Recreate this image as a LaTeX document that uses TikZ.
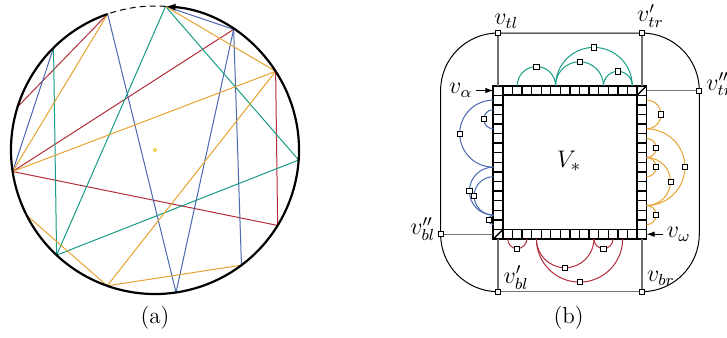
\documentclass[tikz,border=0pt]{standalone}
\usetikzlibrary{arrows.meta}
\definecolor{chblue}{HTML}{4A68B0}
\definecolor{chteal}{HTML}{179C86}
\definecolor{chorange}{HTML}{E6A332}
\definecolor{chred}{HTML}{B22C3A}
\definecolor{chyellow}{HTML}{E8C020}
\begin{document}
\begin{tikzpicture}[x=0.5pt, y=0.5pt, font=\fontsize{11.5}{13}\selectfont, >={Latex[length=4pt,width=2.8pt]},
    chord/.style={line width=0.5pt},
    arcln/.style={line width=0.5pt},
    vsq/.style={draw, fill=white, inner sep=0pt, minimum size=2.6pt, line width=0.4pt},
    lbl/.style={inner sep=0pt, anchor=base west},
    conn/.style={draw=black!55, line width=0.7pt},
    rim/.style={line width=0.5pt},
    cellln/.style={line width=0.7pt}]
  \useasboundingbox (0,0) rectangle (727,337);

  % (a) chords on the circle
  \foreach \n/\a in {pN/85.8, pA/109.2, pB/134.8, pC/162.5, pD/188.6, pE/206.9, pF/226.9,
                     pG/250.6, pH/278.4, pI/306.9, pJ/328.4, pK/356, pL/33.1, pM/56.9}
    \coordinate (\n) at ([shift={(155,187)}]\a:144);
  \foreach \u/\v in {pC/pA, pD/pM, pD/pJ, pL/pJ} \draw[chord, chred] (\u) -- (\v);
  \foreach \u/\v in {pB/pD, pA/pH, pH/pM, pM/pI, pN/pM} \draw[chord, chblue] (\u) -- (\v);
  \foreach \u/\v in {pB/pF, pF/pN, pN/pK, pF/pK} \draw[chord, chteal] (\u) -- (\v);
  \foreach \u/\v in {pA/pD, pD/pL, pN/pL, pL/pG, pE/pG, pG/pI} \draw[chord, chorange] (\u) -- (\v);
  \draw[line width=1.1pt, -{Latex[length=5pt,width=3.6pt]}] (pA) arc[start angle=109.2, end angle=445.8, radius=144];
  \draw[line width=0.5pt, dash pattern=on 3pt off 2pt] (pN) arc[start angle=85.8, end angle=109.2, radius=144];
  \node[circle, draw=chyellow, inner sep=0pt, minimum size=1.8pt, line width=0.4pt] (ctr) at (155,187) {};
  \node[anchor=base] (capa) at (155,13.3) {(a)};

  % (b) the border ring and its arcs
  \begin{scope}[xshift=246.65pt, yshift=49pt, x=4.79pt, y=4.79pt]
    \coordinate (ptl) at (0.5,21.5);
    \coordinate (ptr1) at (15.5,21.5);
    \coordinate (ptr2) at (21.5,15.5);
    \coordinate (pbl2) at (-5.5,0.5);
    \coordinate (pbl1) at (0.5,-5.5);
    \coordinate (pbr) at (15.5,-5.5);
    \draw[rim] (ptl) -- (ptr1) arc[start angle=90, end angle=0, radius=6] -- (21.5,0.5)
      arc[start angle=0, end angle=-90, radius=6];
    \draw[rim] (pbl1) arc[start angle=270, end angle=180, radius=6] -- (-5.5,15.5)
      arc[start angle=180, end angle=90, radius=6];

    \node[draw, line width=0.9pt, minimum size=76.64pt, inner sep=0pt, outer sep=0pt] (sq) at (8,8) {};
    \draw[line width=0.9pt] (1,1) rectangle (15,15);
    \foreach \i in {1,...,15}
      \draw[cellln] (\i,0) -- (\i,1) (\i,15) -- (\i,16) (0,\i) -- (1,\i) (15,\i) -- (16,\i);
    \draw[cellln] (15,15) -- (16,16) (0,0) -- (1,1);
    \node[lbl, font=\fontsize{12.5}{15}\selectfont] (vstar) at (6.62,7.46) {$V_*$};

    \foreach \a/\b [count=\k] in {2.5/6.5, 6.5/14.5, 6.5/11.5, 11.5/14.5} {
      \draw[arcln, chteal] (\a,16) arc[start angle=180, end angle=0, radius={(\b-\a)/2}];
      \node[vsq] (t\k) at ({(\a+\b)/2},{16+(\b-\a)/2}) {};
    }
    \foreach \a/\b [count=\k] in {14.5/11.5, 11.5/3.5, 10.5/8.5, 8.5/6.5, 8.5/3.5, 3.5/1.5} {
      \draw[arcln, chorange] (16,\a) arc[start angle=90, end angle=-90, radius={(\a-\b)/2}];
      \node[vsq] (r\k) at ({16+(\a-\b)/2},{(\a+\b)/2}) {};
    }
    \foreach \a/\b [count=\k] in {14.5/7.5, 13.5/11.5, 7.5/2.5, 6.5/2.5, 2.5/1.5} {
      \draw[arcln, chblue] (0,\a) arc[start angle=90, end angle=270, radius={(\a-\b)/2}];
      \node[vsq] (l\k) at ({-(\a-\b)/2},{(\a+\b)/2}) {};
    }
    \foreach \a/\b [count=\k] in {1.5/3.5, 4.5/10.5, 4.5/13.5, 10.5/12.5} {
      \draw[arcln, chred] (\a,0) arc[start angle=180, end angle=360, radius={(\b-\a)/2}];
      \node[vsq] (b\k) at ({(\a+\b)/2},{-(\b-\a)/2}) {};
    }

    \node[vsq] (vtl) at (ptl) {};
    \node[vsq] (vtr1) at (ptr1) {};
    \node[vsq] (vtr2) at (ptr2) {};
    \node[vsq] (vbl2) at (pbl2) {};
    \node[vsq] (vbl1) at (pbl1) {};
    \node[vsq] (vbr) at (pbr) {};
    \draw[conn] (vtl) -- (vtl |- sq.north);
    \draw[conn] (vtr1) -- (vtr1 |- sq.north);
    \draw[conn] (vtr2) -- (vtr2 -| sq.east);
    \draw[conn] (vbl2) -- (vbl2 -| sq.west);
    \draw[conn] (vbl1) -- (vbl1 |- sq.south);
    \draw[conn] (vbr) -- (vbr |- sq.south);
    \draw[conn] (vbl1) -- (vbr);

    \node[lbl] (ltl) at (0.07,22.34) {$v_{tl}$};
    \node[lbl] (ltr1) at (14.97,22.68) {$v'_{tr}$};
    \node[lbl] (ltr2) at (22.2,15.55) {$v''_{tr}$};
    \node[lbl] (lbl2) at (-8.7,0.42) {$v''_{bl}$};
    \node[lbl] (lbl1) at (1.04,-4.62) {$v'_{bl}$};
    \node[lbl] (lbr) at (16.01,-4.46) {$v_{br}$};
    \node[anchor=east, inner xsep=1.6pt, inner ysep=0pt] (valpha) at (-1.8,15.5) {$v_\alpha$};
    \node[anchor=west, inner xsep=1.6pt, inner ysep=0pt] (vomega) at (17.75,0.5) {$v_\omega$};
    \draw[line width=0.5pt, ->] (valpha.east) -- (valpha.east -| sq.west);
    \draw[line width=0.5pt, ->] (vomega.west) -- (vomega.west -| sq.east);
  \end{scope}
  \node[anchor=base] (capb) at (568.7,13.3) {(b)};
\end{tikzpicture}
\end{document}
